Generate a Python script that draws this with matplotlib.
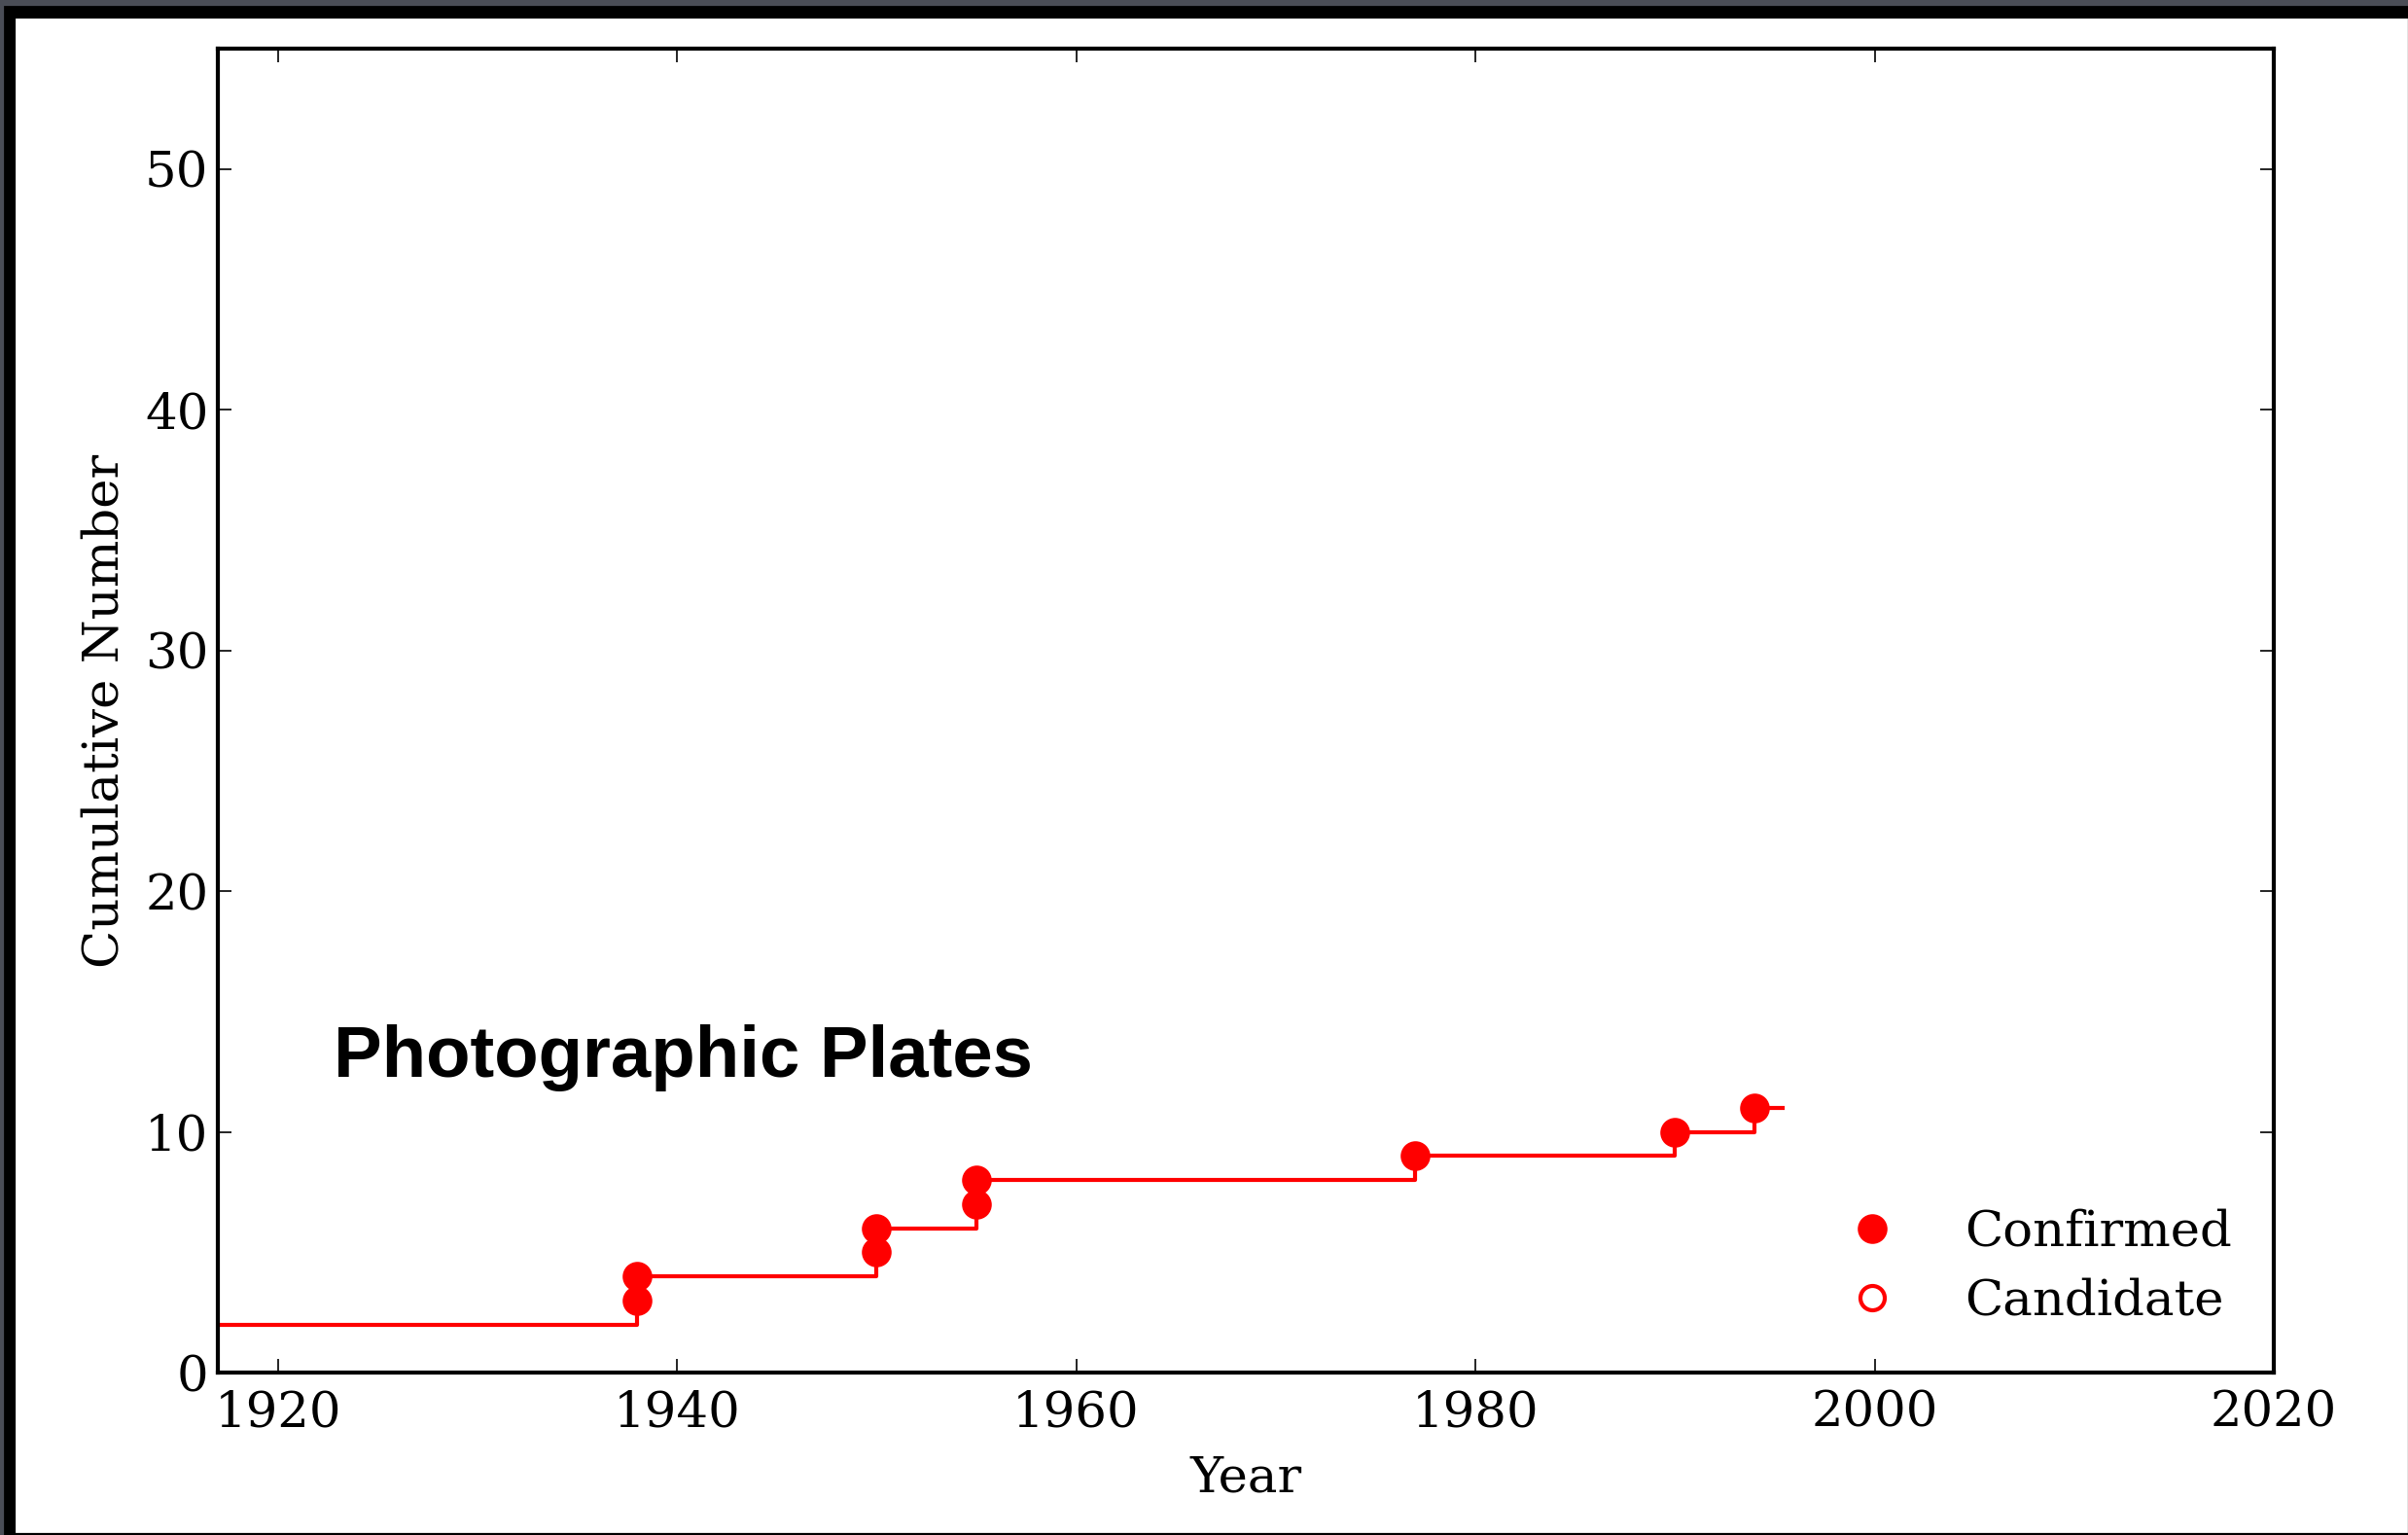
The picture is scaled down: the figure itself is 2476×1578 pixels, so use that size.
import matplotlib
matplotlib.use("Agg")
import matplotlib.pyplot as plt
from matplotlib.patches import Rectangle

# cumulative discoveries, photographic plates era
conf_years = [1938, 1938, 1950, 1950, 1955, 1955, 1977, 1990, 1994]
conf_count = [3, 4, 5, 6, 7, 8, 9, 10, 11]
cand_years = []
cand_count = []

# running total drawn as a step line
step_years = [1900, 1938, 1950, 1955, 1977, 1990, 1994, 1995.4]
step_count = [2, 4, 6, 8, 9, 10, 11, 11]

W, H, DPI = 2476, 1578, 200
plt.rcParams["font.family"] = "DejaVu Serif"
plt.rcParams["font.size"] = 18.5

fig = plt.figure(figsize=(W / DPI, H / DPI), dpi=DPI, facecolor="#4a4d56")


def px_rect(x0, y0, x1, y1, color):
    # rectangle given in pixel coords from the top-left corner
    fig.patches.append(Rectangle((x0 / W, 1 - y1 / H), (x1 - x0) / W, (y1 - y0) / H,
                                 transform=fig.transFigure, color=color, zorder=-10))


px_rect(5, 7, W, H, "black")
px_rect(17, 20, W - 2, H - 4, "white")

ax = fig.add_axes([224 / W, 1 - 1411 / H, (2338 - 224) / W, (1411 - 50) / H])
ax.set_facecolor("white")

ax.step(step_years, step_count, where="post", color="red", lw=1.5, zorder=2)
ax.plot(conf_years, conf_count, "o", color="red", ms=10, mec="red", zorder=3, label="Confirmed")
ax.plot(cand_years, cand_count, "o", color="red", ms=9, mfc="none", mec="red", mew=1.5,
        zorder=3, label="Candidate")

ax.text(1922.8, 12.3, "Photographic Plates", family="Liberation Sans", weight="bold",
        fontsize=26.8, va="baseline", ha="left")

ax.set_xlim(1917, 2020)
ax.set_ylim(0, 55)
ax.set_xticks([1920, 1940, 1960, 1980, 2000, 2020])
ax.set_yticks([0, 10, 20, 30, 40, 50])
ax.tick_params(direction="in", top=True, right=True, length=5, width=0.6)
ax.tick_params(axis="x", pad=6)
ax.tick_params(axis="y", pad=3.5)
for s in ax.spines.values():
    s.set_linewidth(1.5)

ax.set_xlabel("Year", labelpad=6.5)
ax.set_ylabel("Cumulative Number", labelpad=6)

ax.legend(loc="lower right", bbox_to_anchor=(0.9978, 0.007), frameon=False, numpoints=1,
          handlelength=2.0, handletextpad=0.85, labelspacing=0.42, borderaxespad=0.35)

fig.savefig("out.png", dpi=DPI, facecolor=fig.get_facecolor())
